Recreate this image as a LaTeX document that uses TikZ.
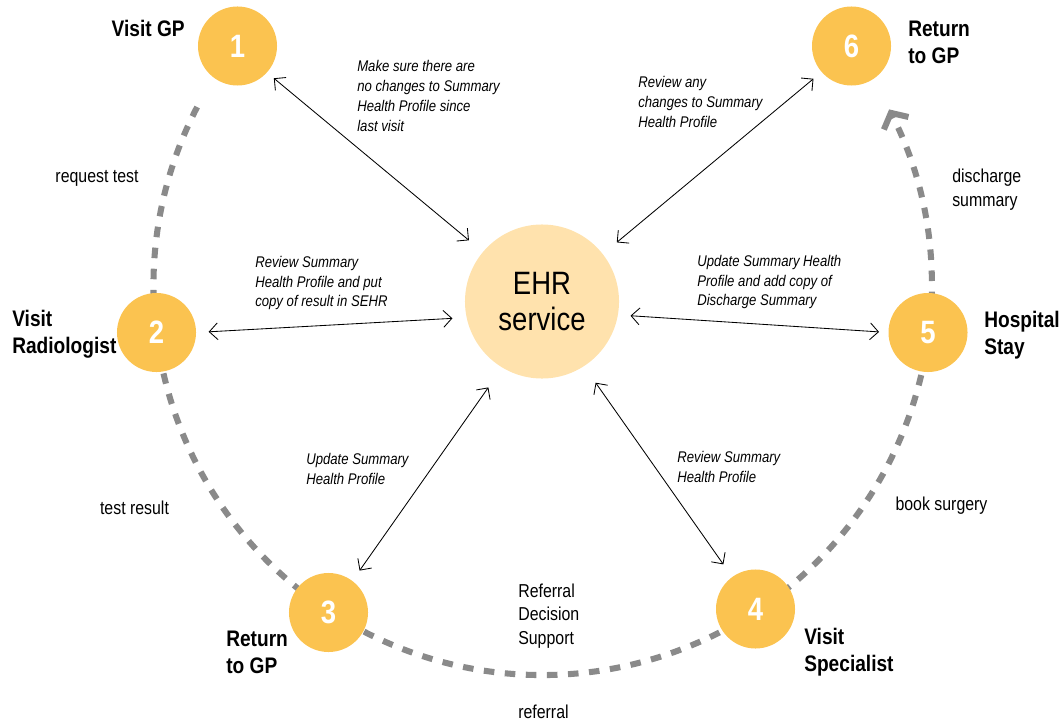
\documentclass[tikz,border=0pt]{standalone}
\usepackage{fontspec}
\setmainfont[FakeStretch=0.85]{Liberation Sans}
\usetikzlibrary{arrows.meta}

\definecolor{stepfill}{HTML}{FBC350}
\definecolor{ehrfill}{HTML}{FFE2AD}
\definecolor{trailgray}{HTML}{8A8A8A}

\begin{document}
\begin{tikzpicture}[
  x=0.025cm, y=0.025cm,
  stepnode/.style={
    circle,
    fill=stepfill,
    minimum size=19.75mm,
    inner sep=0pt,
    text=white,
    font=\fontsize{23}{23}\selectfont\bfseries
  },
  ehrnode/.style={
    circle,
    fill=ehrfill,
    minimum size=38.5mm,
    inner sep=0pt,
    align=center,
    font=\fontsize{23}{25.3}\selectfont
  },
  tag/.style={
    font=\fontsize{16}{19.2}\selectfont\bfseries,
    align=left,
    inner sep=0pt
  },
  note/.style={
    font=\fontsize{11}{14.2}\selectfont\itshape,
    align=left,
    inner sep=0pt,
    anchor=west
  },
  hop/.style={
    font=\fontsize{13.3}{16.7}\selectfont,
    align=left,
    inner sep=0pt
  },
  link/.style={
    <->,
    >={Straight Barb[length=2.1mm,width=4.2mm]},
    line width=0.6pt
  },
  trail/.style={
    -{Straight Barb[length=2.9mm,width=6.9mm]},
    draw=trailgray,
    line width=4.3pt,
    dash pattern=on 7.5pt off 7.5pt
  }
]
\useasboundingbox (0,0) rectangle (1062,-722);

% Patient journey ring (behind the steps)
\coordinate (hub) at (542.5,-286);
\draw[trail] ([shift={(152.6:389)}]hub)
  arc[start angle=152.6, end angle=387, radius=389];

% Steps
\node[stepnode] (n1) at (237.5, -46)   {1};
\node[stepnode] (n2) at (156.5,-332.5) {2};
\node[stepnode] (n3) at (328.5,-612.5) {3};
\node[stepnode] (n4) at (755.5,-609)   {4};
\node[stepnode] (n5) at (928,  -332.5) {5};
\node[stepnode] (n6) at (851.5, -46)   {6};

% Central service
\node[ehrnode] (ehr) at (542,-301.5) {EHR\\service};

% Step names
\node[tag, anchor=east] (t1) at (185, -28)   {Visit GP};
\node[tag, anchor=west] (t2) at (12,  -334.5) {Visit\\Radiologist};
\node[tag, anchor=west] (t3) at (226, -652)  {Return\\to GP};
\node[tag, anchor=west] (t4) at (804, -652)  {Visit\\Specialist};
\node[tag, anchor=west] (t5) at (984, -335)  {Hospital\\Stay};
\node[tag, anchor=west] (t6) at (908, -42.5) {Return\\to GP};

% Exchanges with the EHR service
\draw[link, shorten <=2.2mm, shorten >=4.5mm] (n1.-42) -- (ehr.140);
\draw[link, shorten <=3.1mm, shorten >=3.5mm] (n2.0)   -- (ehr.192);
\draw[link, shorten <=3.1mm, shorten >=6mm]   (n3.53)  -- (ehr.239);
\draw[link, shorten <=5mm,   shorten >=3.8mm] (ehr.-57) -- (n4.126);
\draw[link, shorten <=3.1mm, shorten >=2.3mm] (ehr.-10) -- (n5.180);
\draw[link, shorten <=4.5mm, shorten >=2.6mm] (ehr.38)  -- (n6.221);

\node[note] (m1) at (357,-96)  {Make sure there are\\no changes to Summary\\Health Profile since\\last visit};
\node[note] (m2) at (255,-283) {Review Summary\\Health Profile and put\\copy of result in SEHR};
\node[note] (m3) at (306,-469) {Update Summary\\Health Profile};
\node[note] (m4) at (677,-467) {Review Summary\\Health Profile};
\node[note] (m5) at (697,-282) {Update Summary Health\\Profile and add copy of\\Discharge Summary};
\node[note] (m6) at (638,-102) {Review any\\changes to Summary\\Health Profile};

% Hand-overs along the ring
\node[hop] (h1) at (97,  -178)   {request test};
\node[hop] (h2) at (134.5,-508)  {test result};
\node[hop, anchor=west] (h3) at (518,-616) {Referral\\Decision\\Support};
\node[hop, anchor=west] (h4) at (518,-712) {referral};
\node[hop] (h5) at (941.5,-506)  {book surgery};
\node[hop, anchor=west] (h6) at (952,-189.5) {discharge\\summary};

\end{tikzpicture}
\end{document}
